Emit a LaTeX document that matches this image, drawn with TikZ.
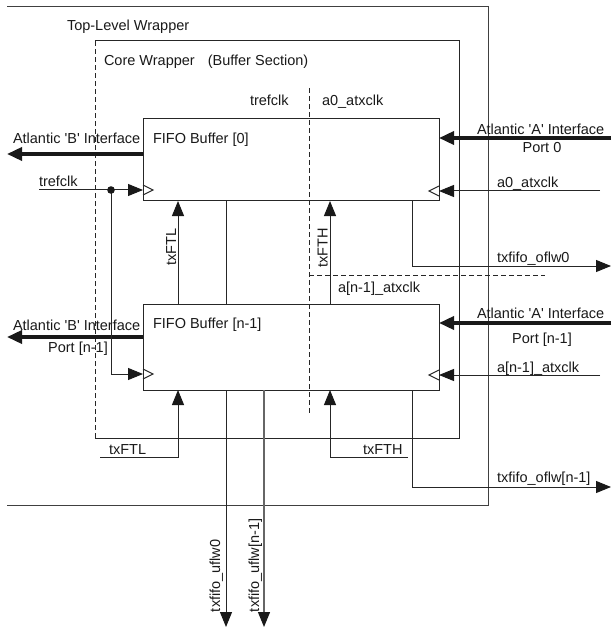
\documentclass[tikz,border=0pt]{standalone}
\usepackage{fontspec}
\newfontfamily\arialf{Liberation Sans}
\usetikzlibrary{arrows.meta,calc}
\begin{document}
\begin{tikzpicture}[x=1pt,y=-1pt,
  every node/.style={font=\arialf\fontsize{14.5}{17}\selectfont, text=black!90, inner sep=0pt, outer sep=0pt},
  wire/.style={draw=black!85, line width=1pt},
  gwire/.style={draw=black!60, line width=1.2pt},
  bus/.style={draw=black!90, line width=3.5pt},
  arr/.style={-{Triangle[length=15pt,width=12pt,color=black!90]}},
  busarr/.style={-{Triangle[length=15pt,width=13pt]}},
  fifo/.style={draw=black!85, line width=1pt, minimum width=296pt, anchor=north west},
  dsh/.style={draw=black!85, line width=0.8pt, dash pattern=on 5pt off 3pt},
  lbl/.style={anchor=base west},
  vlbl/.style={anchor=base, rotate=90},
  vlblw/.style={anchor=base west, rotate=90}
]
\useasboundingbox (0,0) rectangle (611,628);

% wrappers
\coordinate (tlA) at (7,7);
\coordinate (tlB) at (488,7);
\coordinate (tlC) at (488,505);
\coordinate (tlD) at (7,505);
\draw[draw=black!75, line width=1pt] (tlA) -- (tlB) -- (tlC) -- (tlD);
\node[lbl] (tltxt) at (67,31) {Top-Level Wrapper};

\coordinate (cwA) at (95,41);
\coordinate (cwB) at (459,41);
\coordinate (cwC) at (459,438);
\coordinate (cwD) at (95,438);
\draw[wire] (cwA) -- (cwB) -- (cwC) -- (cwD);
\draw[dsh] (cwD) -- (cwA);
\node[lbl] (cwtxt) at (104,66) {Core Wrapper\hspace{9pt} (Buffer Section)};

% clock domain boundary
\coordinate (dmA) at (309,88);
\coordinate (dmB) at (309,413);
\coordinate (dmC) at (309,275);
\coordinate (dmD) at (545,275);
\draw[dsh] (dmA) -- (dmB);
\draw[dsh] (dmC) -- (dmD);
\node[lbl] (trefTop) at (250,106) {trefclk};
\node[lbl] (a0Top) at (322,106) {a0\_atxclk};
\node[lbl] (anMid) at (338,292) {a[n-1]\_atxclk};

% FIFO boxes
\node[fifo, minimum height=82pt] (f0) at (143,119) {};
\node[fifo, minimum height=86pt] (f1) at (143,304) {};
\node[lbl] (f0txt) at (153,144) {FIFO Buffer [0]};
\node[lbl] (f1txt) at (153,328) {FIFO Buffer [n-1]};

% Atlantic B interfaces
\coordinate (bOut0) at (7,154);
\coordinate (bOut1) at (7,337);
\draw[bus, busarr] ($(f0.north west)+(0,35)$) -- (bOut0);
\draw[bus, busarr] ($(f1.north west)+(0,33)$) -- (bOut1);
\node[lbl] (b0txt) at (13,144) {Atlantic 'B' Interface};
\node[lbl] (b1txt) at (13,330) {Atlantic 'B' Interface};
\node[anchor=base] (b1port) at (78,352) {Port [n-1]};

% Atlantic A interfaces
\coordinate (aIn0) at (611,138);
\coordinate (aIn1) at (611,323);
\draw[bus, busarr] (aIn0) -- ($(f0.north east)+(0,19)$);
\draw[bus, busarr] (aIn1) -- ($(f1.north east)+(0,19)$);
\node[lbl] (a0txt) at (477,135) {Atlantic 'A' Interface};
\node[anchor=base] (a0port) at (542,153) {Port 0};
\node[lbl] (a1txt) at (477,318) {Atlantic 'A' Interface};
\node[anchor=base] (a1port) at (542,343) {Port [n-1]};

% trefclk
\coordinate (trefIn) at (39,190);
\coordinate (trefDot) at (111,190);
\coordinate (trefBend) at (111,374);
\draw[wire, arr] (trefIn) -- ($(f0.north west)+(0,71)$);
\draw[wire, arr] (trefDot) -- (trefBend) -- ($(f1.north west)+(0,70)$);
\fill[black!90] (trefDot) circle (3.8pt);
\node[lbl] (trefL) at (39,187) {trefclk};
\draw[wire] ($(f0.north west)+(0,66)$) -- ++(10,5) -- ++(-10,5);
\draw[wire] ($(f1.north west)+(0,65)$) -- ++(10,5) -- ++(-10,5);

% atxclk
\coordinate (a0clk) at (600,191);
\coordinate (anclk) at (600,375);
\draw[wire, arr] (a0clk) -- ($(f0.north east)+(0,72)$);
\draw[wire, arr] (anclk) -- ($(f1.north east)+(0,71)$);
\draw[wire] ($(f0.north east)+(0,67)$) -- ++(-10,5) -- ++(10,5);
\draw[wire] ($(f1.north east)+(0,66)$) -- ++(-10,5) -- ++(10,5);
\node[lbl] (a0clkT) at (497,188) {a0\_atxclk};
\node[lbl] (anclkT) at (497,372) {a[n-1]\_atxclk};

% txFTL / txFTH between boxes
\coordinate (xL) at (178,0);
\coordinate (xH) at (330,0);
\draw[wire, arr] (xL |- f1.north) -- (xL |- f0.south);
\draw[wire, arr] (xH |- f1.north) -- (xH |- f0.south);
\node[vlbl] (ftlV) at (176,247) {txFTL};
\node[vlbl] (fthV) at (327.5,248) {txFTH};

% txFTL / txFTH inputs at bottom
\coordinate (ftlIn) at (100,457);
\coordinate (ftlB) at (178,457);
\coordinate (fthIn) at (408,457);
\coordinate (fthB) at (330,457);
\draw[wire, arr] (ftlIn) -- (ftlB) -- (ftlB |- f1.south);
\draw[wire, arr] (fthIn) -- (fthB) -- (fthB |- f1.south);
\node[lbl] (ftlT) at (109,454) {txFTL};
\node[lbl] (fthT) at (363,454) {txFTH};

% overflow outputs
\coordinate (xO) at (412,0);
\coordinate (of0B) at (412,266);
\coordinate (of0E) at (611,266);
\coordinate (of1B) at (412,487);
\coordinate (of1E) at (611,487);
\draw[wire, arr] (xO |- f0.south) -- (of0B) -- (of0E);
\draw[wire, arr] (xO |- f1.south) -- (of1B) -- (of1E);
\node[lbl] (of0T) at (497,262) {txfifo\_oflw0};
\node[lbl] (of1T) at (497,482) {txfifo\_oflw[n-1]};

% underflow outputs
\coordinate (xU0) at (226,0);
\coordinate (xU1) at (264,0);
\coordinate (uf0E) at (226,627);
\coordinate (uf1E) at (264,627);
\draw[wire] (xU0 |- f0.south) -- (xU0 |- f1.north);
\draw[wire, arr] (xU0 |- f1.south) -- (uf0E);
\draw[gwire, arr] (xU1 |- f1.south) -- (uf1E);
\node[vlblw] (uf0T) at (220,612) {txfifo\_uflw0};
\node[vlblw] (uf1T) at (259,612) {txfifo\_uflw[n-1]};
\end{tikzpicture}
\end{document}
